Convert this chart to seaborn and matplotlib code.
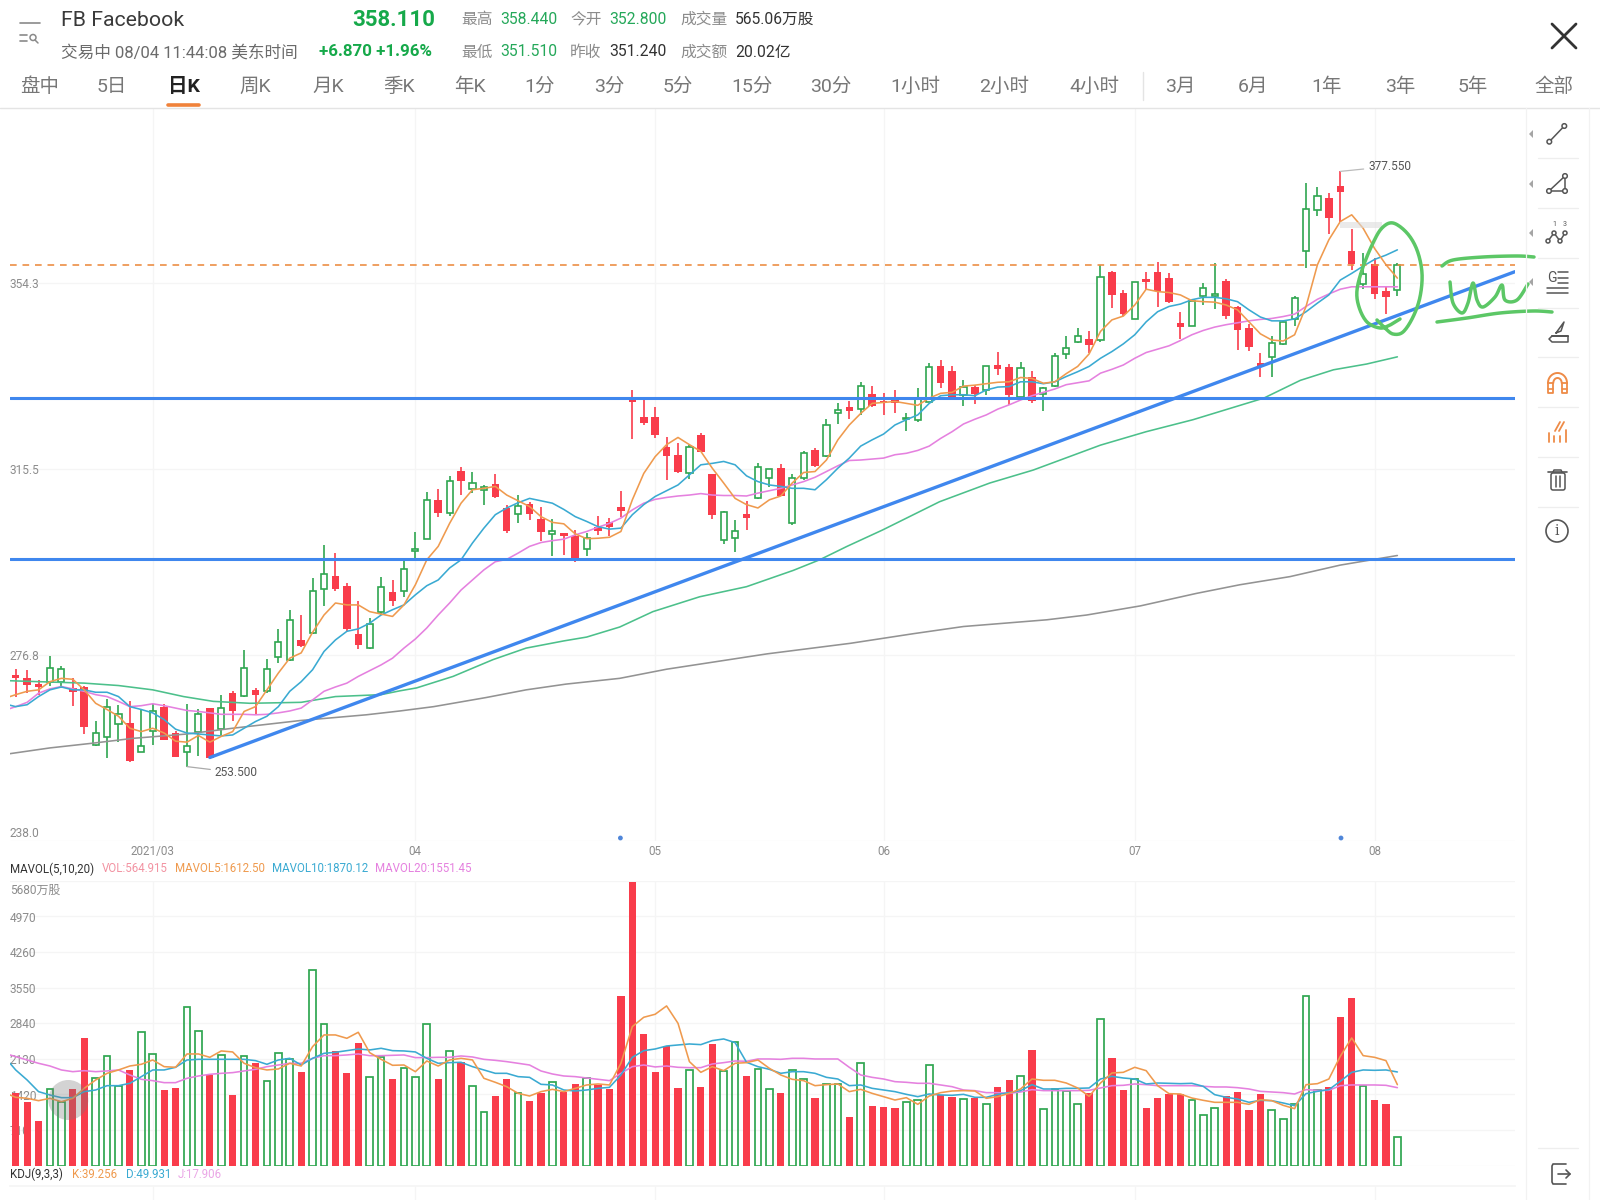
import numpy as np
import pandas as pd
import seaborn as sns
import matplotlib
matplotlib.use('Agg')
import matplotlib.pyplot as plt
from matplotlib.patches import Circle, Rectangle, Polygon, FancyBboxPatch
from matplotlib.transforms import blended_transform_factory

# candles
opens = [272.6,272.0,270.8,271.1,271.2,269.8,270.1,258.1,259.7,262.4,262.6,256.6,261.0,266.0,260.5,256.6,260.8,265.8,261.3,268.9,
         268.3,269.4,269.2,276.3,275.8,279.9,281.3,290.6,293.3,291.2,281.2,278.3,285.8,289.9,290.1,298.5,300.9,309.0,306.3,315.1,
         311.4,311.2,312.3,307.5,306.2,308.3,305.2,302.0,302.1,301.6,298.8,303.4,304.4,307.6,329.9,326.3,326.3,320.1,318.4,314.6,
         322.6,314.5,300.8,301.2,306.2,309.5,313.6,315.8,304.2,313.6,319.4,318.3,327.1,328.5,328.0,331.2,329.8,329.9,325.9,325.8,
         329.5,336.9,335.9,330.9,332.7,331.9,337.2,336.8,330.6,334.6,331.2,332.8,339.4,341.9,342.7,342.4,356.5,352.3,346.8,355.2,
         356.6,355.3,345.9,345.4,351.5,351.5,354.7,349.2,345.0,337.7,338.8,341.5,346.7,361.0,369.6,371.9,374.6,361.0,354.1,358.3,
         352.7,352.8]
highs = [273.8,273.7,271.6,276.6,274.4,271.9,270.2,263.1,267.6,266.4,267.1,265.5,266.6,266.6,261.0,266.6,265.5,265.8,268.5,269.2,
         277.9,269.9,276.0,282.2,286.2,285.1,292.8,299.7,298.0,291.7,288.1,284.4,293.1,292.4,296.6,302.4,310.7,311.3,314.1,315.9,
         314.8,312.2,314.4,308.1,310.1,308.7,307.7,305.1,302.1,302.8,302.1,305.8,305.4,311.0,331.9,329.9,328.5,322.1,321.0,320.6,
         323.0,314.5,306.7,304.9,308.9,316.7,315.6,316.5,314.5,319.2,319.8,325.9,329.2,329.8,333.7,332.9,331.3,331.9,327.3,332.4,
         337.7,338.3,336.9,334.0,333.1,337.0,340.0,337.4,337.9,336.0,332.7,339.8,343.3,344.9,344.2,358.0,356.7,352.8,354.6,356.5,
         358.7,356.3,348.3,350.5,354.2,358.4,355.1,349.5,345.8,339.8,343.3,346.4,351.5,375.2,374.4,373.1,377.55,365.5,360.6,359.4,
         353.7,358.44]
lows = [268.0,268.8,268.5,270.2,269.9,266.2,260.3,257.8,255.2,258.7,254.4,256.5,258.1,259.0,255.5,253.5,255.8,255.4,260.1,263.1,
        268.1,264.3,268.8,275.1,275.6,278.5,281.2,286.9,290.0,281.7,278.0,278.0,285.1,286.9,288.8,296.9,300.9,305.5,305.8,310.1,
        310.6,308.1,309.4,302.1,304.2,304.8,300.6,297.4,297.5,296.2,297.3,301.7,301.5,305.6,321.7,324.7,321.9,313.3,314.6,313.4,
        319.0,305.1,299.9,298.3,302.8,309.2,311.7,309.8,303.9,313.3,315.9,318.0,324.9,325.9,326.8,328.5,326.8,327.1,323.5,325.4,
        329.4,332.4,330.6,328.7,329.1,331.0,335.1,328.8,330.5,329.2,327.7,332.7,338.4,341.7,339.6,341.9,349.0,347.4,346.7,352.8,
        349.2,350.1,342.6,345.3,349.7,348.8,346.7,340.3,340.2,334.6,334.6,341.4,345.3,357.4,368.3,364.6,367.1,356.9,353.0,350.9,
        347.8,351.51]
closes = [271.9,270.6,270.1,274.1,273.8,269.1,261.7,260.5,266.0,264.4,254.7,257.8,265.0,259.1,255.5,257.9,264.4,255.4,265.8,265.0,
          274.0,268.5,273.9,279.4,284.1,278.7,290.2,293.6,290.6,282.2,278.8,283.2,290.9,288.1,294.6,298.8,309.0,306.3,313.1,313.1,
          312.6,311.7,309.7,302.7,307.9,306.2,302.3,302.7,301.5,296.7,301.2,302.7,303.5,306.7,329.5,325.1,322.6,318.3,315.0,320.1,
          319.1,305.9,306.6,302.6,305.3,316.0,315.6,310.0,313.7,318.8,316.2,324.7,327.8,327.7,332.8,328.7,329.2,329.2,326.1,330.3,
          336.7,333.5,330.6,332.6,331.2,336.9,336.3,331.0,336.5,329.7,332.4,339.1,340.7,343.3,341.3,355.6,351.8,347.8,354.4,354.4,
          352.7,350.3,345.1,350.5,353.2,352.1,347.4,344.5,340.9,337.0,341.7,346.2,351.2,369.8,372.4,367.8,373.3,358.3,356.2,351.9,
          351.3,358.11]

# price averages, first value is at the left edge of the chart
ma5 = [268.1,268.5,269.2,269.5,271.2,271.9,271.7,269.5,266.7,265.4,264.0,261.5,260.8,261.5,260.5,258.8,258.6,260.0,258.6,259.8,260.8,
       265.0,266.0,269.5,273.0,276.1,277.2,281.5,285.1,287.6,287.2,287.2,285.8,285.3,284.8,287.2,291.4,296.6,299.4,304.2,308.4,
       311.2,311.5,311.9,310.1,308.9,307.7,305.6,304.4,304.1,302.0,301.0,301.1,301.3,302.5,309.1,314.6,318.1,320.6,322.1,320.6,
       319.2,315.7,312.6,309.4,308.1,307.4,309.1,309.9,312.6,314.8,315.0,317.4,321.6,324.7,327.1,329.2,329.4,329.6,329.2,328.8,
       330.3,331.3,331.5,332.8,333.0,333.3,333.6,333.7,334.6,334.4,333.4,333.7,335.4,336.9,339.5,344.2,346.6,347.4,349.7,353.0,
       352.5,352.3,351.8,350.6,350.4,350.3,349.7,348.7,346.2,343.7,342.4,342.2,343.5,349.4,358.1,363.3,367.1,368.5,365.7,361.5,
       358.1,355.3]
ma10 = [266.3,266.0,266.4,268.1,269.5,270.1,269.5,269.5,269.0,269.0,268.1,266.0,265.4,264.7,263.3,261.3,260.5,260.3,260.1,259.9,260.1,
        261.5,262.9,264.0,266.0,269.2,271.2,273.7,277.5,279.9,281.7,282.2,283.4,285.1,286.2,287.2,289.3,291.2,292.4,294.9,296.6,
        300.1,303.2,306.0,307.4,308.5,309.4,308.9,308.4,307.1,305.6,304.6,303.5,303.0,303.2,306.0,308.1,309.8,311.0,312.2,314.3,
        316.4,316.7,317.1,316.4,314.1,312.9,312.2,311.9,311.5,311.5,311.2,313.3,315.7,317.8,320.3,321.6,322.8,324.7,325.8,326.8,
        329.2,330.8,331.0,331.0,330.8,332.0,332.6,332.7,333.7,333.7,333.3,333.7,334.8,335.8,336.9,338.6,340.0,341.6,343.5,346.2,
        348.3,349.4,349.9,350.8,351.3,351.3,351.0,350.4,348.7,347.2,346.4,346.4,346.8,348.3,350.1,351.8,354.9,356.3,357.8,359.2,
        360.1,361.2]
ma20 = [265.6,266.0,266.9,268.8,269.7,270.2,269.7,269.2,268.5,268.1,267.1,266.0,266.2,266.6,266.2,265.7,265.2,265.0,264.7,264.4,264.4,
        264.4,264.3,264.4,264.7,265.1,265.7,267.4,269.2,270.1,270.9,272.3,273.5,274.7,276.1,278.2,280.1,282.4,285.1,287.6,290.3,
        292.4,294.5,296.2,296.7,298.0,299.4,300.2,300.6,300.9,301.8,302.5,303.4,304.2,305.3,307.0,308.4,309.2,309.6,309.9,310.1,
        310.4,310.1,310.0,310.0,309.9,310.5,311.0,311.5,312.2,312.9,313.8,315.0,316.2,317.3,317.4,317.6,317.8,318.5,318.8,319.4,
        320.3,321.9,323.3,324.9,325.9,326.8,328.0,328.9,329.9,330.8,331.5,332.2,333.1,333.5,333.9,335.5,336.3,337.2,338.6,339.8,
        340.5,341.2,342.3,343.5,344.4,345.1,345.6,346.0,346.4,346.7,346.9,347.3,347.8,349.4,350.9,352.0,353.0,353.5,353.5,353.5,
        353.5,353.5]
ma60_x = [-0.5,6,9,12,14.7,17.3,20.5,25,28,32,33.65,35.1,38.3,41.8,44.7,48,50,52.9,55.8,59.9,64,68.1,70.4,72.8,75.9,80.9,85.3,89.1,95,99,103.1,109.3,112.5,115.4,118.3,121]
ma60 = [271.4,270.9,270.4,269.5,268.1,267.1,266.7,266.9,268.1,268.5,269.3,269.9,272.3,275.8,278.2,279.7,280.5,282.6,285.8,288.9,291.0,294.4,296.6,299.4,302.8,308.7,312.6,315.3,320.5,323.3,325.8,330.3,334.0,336.2,337.4,338.9]
ma200_x = [-0.5,3,6.8,10.3,15,19,24.9,30.7,33.65,36.6,41.2,44.7,48.2,52.9,57,65.8,73.1,78.6,83,90.3,93.8,98.5,103.4,107.2,111.6,116,121]
ma200 = [256.2,257.4,258.4,259.4,260.3,261.5,263.1,264.3,265.1,266.0,267.9,269.5,270.7,271.9,273.8,277.0,279.2,281.2,282.7,284.1,285.1,287.0,289.6,291.4,293.1,295.5,297.5]

# volume in units of 10k shares
volume = [1456,1276,897,1535,1276,1522,2552,1742,2194,1589,1901,2659,2220,1509,1542,3164,2685,1815,2207,1409,
          2180,2054,1682,2240,2134,1868,3895,2832,2287,1855,2439,1761,2174,1735,1948,1761,2818,1722,2287,2067,
          1595,1077,1389,1728,1456,1296,1442,1675,1476,1629,1748,1609,1522,3383,5650,2626,1861,2386,1542,1901,
          1575,2420,1888,2459,1795,1921,1535,1442,1908,1728,1349,1635,1635,964,2047,1190,1163,1150,1263,1316,
          2007,1409,1363,1323,1343,1223,1569,1708,1781,2300,1137,1529,1482,1236,1449,2925,2140,1516,1728,1150,
          1349,1429,1436,1316,1004,1150,1383,1476,1103,1436,1103,937,1236,3377,1502,1569,2965,3343,1595,1316,
          1236,565]
vol_ma5 = [1409,1363,1343,1296,1343,1276,1343,1542,1708,1841,1908,1987,2021,2107,1974,1961,2227,2227,2160,2287,2267,
           2041,1954,1908,1928,2041,1987,2373,2606,2606,2539,2659,2253,2120,2001,2007,1874,2087,1987,2107,2140,
           2107,1742,1662,1575,1442,1389,1476,1522,1476,1542,1609,1629,1609,2041,2772,2958,3018,3184,2838,2074,
           1861,1974,1894,2041,2054,2107,1941,1808,1722,1695,1595,1615,1629,1476,1522,1442,1376,1309,1356,1223,
           1389,1456,1489,1496,1489,1343,1376,1442,1529,1728,1702,1702,1648,1549,1383,1648,1848,1861,1961,1894,
           1595,1436,1429,1349,1303,1263,1263,1263,1223,1316,1296,1203,1137,1615,1635,1728,2180,2546,2194,2160,
           2094,1615]
vol_ma10 = [2041,1908,1708,1476,1409,1356,1356,1476,1509,1595,1595,1642,1775,1908,1908,1961,2107,2120,2120,2120,2120,
            2120,2094,2021,2107,2140,2007,2140,2240,2260,2293,2326,2307,2340,2293,2287,2267,2140,2041,2054,2061,
            1974,1908,1841,1841,1775,1761,1622,1609,1509,1489,1509,1542,1562,1808,2160,2293,2326,2386,2406,2426,
            2413,2493,2526,2453,2061,1974,1921,1841,1874,1874,1841,1761,1728,1595,1609,1542,1509,1476,1422,1376,
            1429,1409,1403,1422,1363,1363,1422,1456,1496,1615,1529,1529,1542,1542,1549,1728,1781,1748,1728,1629,
            1648,1642,1635,1642,1582,1416,1363,1329,1263,1303,1296,1250,1196,1436,1482,1516,1682,1861,1908,1901,
            1908,1868]
vol_ma20 = [2207,2174,2107,2041,1987,1908,1874,1894,1874,1888,1908,1808,1722,1695,1655,1655,1742,1788,1821,1841,1855,
            1888,1921,1974,2007,2041,2041,2140,2193,2193,2207,2227,2193,2193,2200,2207,2154,2154,2160,2160,2187,
            2167,2120,2100,2074,2041,2007,1888,1828,1788,1775,1748,1722,1695,1841,1974,2007,1968,1987,1961,1954,
            1954,2027,2054,2087,2081,2127,2127,2120,2140,2140,2127,2127,2127,1961,1808,1761,1728,1675,1662,1642,
            1642,1609,1575,1509,1496,1456,1456,1442,1469,1516,1496,1496,1496,1496,1502,1549,1595,1602,1629,1615,
            1595,1595,1595,1595,1582,1569,1569,1555,1529,1482,1469,1456,1429,1516,1502,1502,1595,1609,1609,1609,
            1602,1555]

price_ticks = [354.3, 315.5, 276.8, 238]
price_labels = ['354.3', '315.5', '276.8', '238.0']
vol_ticks = [5680, 4970, 4260, 3550, 2840, 2130, 1420, 710, 0]
vol_labels = ['5680万股', '4970', '4260', '3550', '2840', '2130', '1420', '710']
month_pos = [12, 35, 56, 76, 98, 119]
month_labels = ['2021/03', '04', '05', '06', '07', '08']
support_levels = [330.3, 296.8]
last_price = 358.11
trend_x = [17, 131.3]
trend_y = [255.4, 356.65]

RED = '#f93c4b'
GREEN = '#2fa650'
BLUE = '#3f87ee'
ORANGE = '#ef9a4e'
CYAN = '#3aaad2'
PINK = '#e581df'
MINT = '#4cc08b'
GRAY = '#939393'
GRID = '#f5f5f5'
LABEL = '#8c8c8c'
DARK = '#333333'

sns.set_theme(style='white')
plt.rcParams['font.family'] = ['Roboto', 'Noto Sans CJK SC', 'DejaVu Sans']

W, H = 1600, 1200
fig = plt.figure(figsize=(16, 12), dpi=100, facecolor='white')


def px_axes(left, top, right, bottom):
    return fig.add_axes([left / W, 1 - bottom / H, (right - left) / W, (bottom - top) / H])


ax = px_axes(10, 108, 1515, 841)
ax_vol = px_axes(10, 880.7, 1515, 1165.7)
ax_kdj = px_axes(10, 1186, 1515, 1200)
ov = fig.add_axes([0, 0, 1, 1], zorder=10)
ov.set_xlim(0, W)
ov.set_ylim(H, 0)
ov.axis('off')
ov.patch.set_alpha(0)

df = pd.DataFrame({'i': np.arange(122), 'o': opens, 'h': highs, 'l': lows, 'c': closes, 'vol': volume})
df['up'] = df['c'] >= df['o']
xs = np.r_[-0.5, df['i'].values]


def draw_line(a, x, y, color, lw=1.15):
    sns.lineplot(x=x, y=y, ax=a, color=color, linewidth=lw, estimator=None, sort=False, zorder=4)


def smooth(points, n=10):
    # catmull-rom through hand stroke points
    p = np.array(points, dtype=float)
    p = np.vstack([p[0], p, p[-1]])
    out = []
    for k in range(1, len(p) - 2):
        for t in np.linspace(0, 1, n, endpoint=False):
            out.append(0.5 * (2 * p[k] + (p[k + 1] - p[k - 1]) * t
                              + (2 * p[k - 1] - 5 * p[k] + 4 * p[k + 1] - p[k + 2]) * t ** 2
                              + (3 * p[k] - p[k - 1] - 3 * p[k + 1] + p[k + 2]) * t ** 3))
    out.append(p[-2])
    return np.array(out)


# candles
for up, part in df.groupby('up'):
    col = GREEN if up else RED
    ax.vlines(part['i'], part['l'], part['h'], color=col, lw=1.2, zorder=2)
    low = part[['o', 'c']].min(axis=1)
    high = part[['o', 'c']].max(axis=1)
    if up:
        ax.bar(part['i'], high - low, bottom=low, width=0.54, facecolor='white', edgecolor=col, linewidth=1.2, zorder=3)
    else:
        ax.bar(part['i'], (high - low).clip(lower=0.6), bottom=low, width=0.66, color=col, linewidth=0, zorder=3)

draw_line(ax, ma200_x, ma200, GRAY)
draw_line(ax, ma60_x, ma60, MINT)
draw_line(ax, xs, ma20, PINK)
draw_line(ax, xs, ma10, CYAN)
draw_line(ax, xs, ma5, ORANGE)

ax.axhline(last_price, color='#ec8f45', lw=1.2, ls=(0, (4, 3.5)), zorder=4)
for level in support_levels:
    ax.axhline(level, color=BLUE, lw=2.2, zorder=5)
draw_line(ax, trend_x, trend_y, BLUE, lw=2.4)

ax.annotate('377.550', xy=(116, 377.55), xytext=(28, 5), textcoords='offset pixels', fontsize=8.6, color='#555555',
            va='center', arrowprops=dict(arrowstyle='-', color='#bbbbbb', lw=0.9, shrinkA=1, shrinkB=0))
ax.annotate('253.500', xy=(15, 253.5), xytext=(28, -6), textcoords='offset pixels', fontsize=8.6, color='#555555',
            va='center', arrowprops=dict(arrowstyle='-', color='#aaaaaa', lw=0.9, shrinkA=1, shrinkB=0))

ax.set_xlim(-0.5, 131.3)
ax.set_ylim(238.05, 390.76)
ax.set_xticks(month_pos)
ax.set_xticklabels(month_labels, fontsize=8.4, color=LABEL)
ax.set_yticks(price_ticks)
ax.set_yticklabels([])
ax.tick_params(axis='x', length=0, pad=3)
ax.tick_params(axis='y', length=0)
ax.set_xlabel('')
ax.set_ylabel('')
ax.grid(True, color=GRID, lw=0.9)
ax.set_axisbelow(True)
for s in ax.spines.values():
    s.set_visible(False)
trans = blended_transform_factory(ax.transAxes, ax.transData)
for val, lab in zip(price_ticks, price_labels):
    y = 239.5 if val == 238 else val - 0.3
    ax.text(0, y, lab, transform=trans, fontsize=8.6, color=LABEL, va='center', ha='left', zorder=1)

# volume
sns.barplot(data=df[df['up']], x='i', y='vol', native_scale=True, ax=ax_vol, fill=False, color=GREEN, width=0.58,
            linewidth=1.25, saturation=1, errorbar=None, zorder=2)
sns.barplot(data=df[~df['up']], x='i', y='vol', native_scale=True, ax=ax_vol, color=RED, width=0.63,
            linewidth=0, saturation=1, errorbar=None, zorder=2)
draw_line(ax_vol, xs, vol_ma20, PINK)
draw_line(ax_vol, xs, vol_ma10, CYAN)
draw_line(ax_vol, xs, vol_ma5, ORANGE)
ax_vol.set_xlim(-0.5, 131.3)
ax_vol.set_ylim(0, 5680)
ax_vol.set_xticks(month_pos)
ax_vol.set_xticklabels([])
ax_vol.set_yticks(vol_ticks)
ax_vol.set_yticklabels([])
ax_vol.tick_params(length=0)
ax_vol.set_xlabel('')
ax_vol.set_ylabel('')
ax_vol.grid(True, color=GRID, lw=0.9)
ax_vol.set_axisbelow(True)
for s in ax_vol.spines.values():
    s.set_visible(False)
trans = blended_transform_factory(ax_vol.transAxes, ax_vol.transData)
for val, lab in zip(vol_ticks, vol_labels):
    off = -195 if val == 5680 else -35
    ax_vol.text(0, val + off, lab, transform=trans, fontsize=8.6, color=LABEL, va='center', ha='left', zorder=1)

ax_kdj.set_xlim(-0.5, 131.3)
ax_kdj.set_xticks(month_pos)
ax_kdj.set_xticklabels([])
ax_kdj.set_yticks([])
ax_kdj.tick_params(length=0)
ax_kdj.grid(True, axis='x', color=GRID, lw=0.9)
for k, s in ax_kdj.spines.items():
    s.set_visible(k == 'top')
    s.set_color(GRID)

# indicator captions
for x, txt, col in [(10, 'MAVOL(5,10,20)', DARK), (101.7, 'VOL:564.915', '#f293a2'), (175, 'MAVOL5:1612.50', ORANGE),
                    (271.7, 'MAVOL10:1870.12', CYAN), (375, 'MAVOL20:1551.45', PINK)]:
    ov.text(x, 869, txt, color=col, fontsize=8.3, va='center')
for x, txt, col in [(10, 'KDJ(9,3,3)', DARK), (72.3, 'K:39.256', ORANGE), (125.7, 'D:49.931', CYAN), (177.7, 'J:17.906', '#eaa6e6')]:
    ov.text(x, 1174.5, txt, color=col, fontsize=8.3, va='center')

# header
ov.text(61, 21, 'FB Facebook', fontsize=15.3, color='#3a3a3a', va='center')
ov.text(352, 20.5, '358.110', fontsize=16, color='#16a94a', fontweight='bold', va='center')
ov.text(61, 53, '交易中 08/04 11:44:08 美东时间', fontsize=12, color='#6b6b6b', va='center')
ov.text(319, 52, '+6.870 +1.96%', fontsize=12.2, color='#16a94a', fontweight='bold', va='center')
for x, y, txt, col in [(461, 19.5, '最高', LABEL), (500, 19.5, '358.440', '#25a85a'), (570, 19.5, '今开', LABEL), (609, 19.5, '352.800', '#25a85a'),
                       (680, 19.5, '成交量', LABEL), (735, 19.5, '565.06万股', DARK),
                       (461, 52, '最低', LABEL), (500, 52, '351.510', '#25a85a'), (570, 52, '昨收', LABEL), (609, 52, '351.240', DARK),
                       (680, 52, '成交额', LABEL), (735, 52, '20.02亿', DARK)]:
    ov.text(x, y, txt, fontsize=11.3, color=col, va='center')

tab_names = ['盘中', '5日', '日K', '周K', '月K', '季K', '年K', '1分', '3分', '5分', '15分', '30分', '1小时', '2小时', '4小时',
             '3月', '6月', '1年', '3年', '5年', '全部']
tab_centers = [40, 112, 184, 255, 328, 399, 470, 540, 609, 678, 752, 831, 915, 1004, 1094, 1180, 1253, 1327, 1400, 1473, 1554]
for x, t in zip(tab_centers, tab_names):
    active = t == '日K'
    ov.text(x, 87, t, fontsize=14, ha='center', va='center', color='#222222' if active else '#777777',
            fontweight='bold' if active else 'normal')
ov.plot([168, 199], [105, 105], color='#f0823a', lw=2.6, solid_capstyle='round')
ov.plot([0, W], [107.5, 107.5], color='#e4e4e4', lw=1)
ov.plot([1143, 1143], [72, 100], color='#e4e4e4', lw=1)

# close button and menu
ov.plot([1552, 1576], [24, 48], color='#333333', lw=2, solid_capstyle='round')
ov.plot([1552, 1576], [48, 24], color='#333333', lw=2, solid_capstyle='round')
ov.plot([20, 40], [23, 23], color='#8a8a8a', lw=1.2)
ov.plot([20, 27], [35, 35], color='#8a8a8a', lw=1.2)
ov.plot([20, 27], [41, 41], color='#8a8a8a', lw=1.2)
ov.add_patch(Circle((33, 37.5), 3, fill=False, ec='#8a8a8a', lw=1.1))
ov.plot([35, 38], [40, 43], color='#8a8a8a', lw=1.1)

# markers on the chart
ov.add_patch(Circle((68.3, 1100), 20, color='#777777', alpha=0.32, lw=0))
ov.add_patch(Rectangle((1340, 222), 42, 6, color='#dcdcdc', alpha=0.6, lw=0))
for px in [620.4, 1341]:
    ov.add_patch(Circle((px, 838), 2.4, color='#4f86d9', lw=0))

# hand drawn green strokes
loop = [(1400,319),(1390,325),(1380,328),(1367,322),(1359,307),(1357,290),(1363,267),(1373,243),(1382,228),(1393,223),(1407,233),
        (1417,250),(1422,273),(1420,297),(1413,317),(1403,332),(1393,334),(1385,328),(1377,320)]
top_stroke = [(1442,266),(1453,260),(1483,257),(1517,256),(1534,257)]
bottom_stroke = [(1437,322),(1467,318),(1500,313),(1533,311),(1552,312)]
scribble = [(1450,282),(1453,303),(1462,313),(1468,303),(1473,283),(1477,300),(1483,307),(1495,297),(1502,285),(1505,300),(1517,300),(1528,284)]
for stroke in [loop, top_stroke, bottom_stroke, scribble]:
    curve = smooth(stroke)
    ov.plot(curve[:, 0], curve[:, 1], color='#5cc766', lw=2.5, solid_capstyle='round', solid_joinstyle='round')

# tool bar
TOOL = '#555555'
TOOL2 = '#ee8b47'
ov.plot([1525.5, 1525.5], [108, 1200], color='#f2f2f2', lw=0.9)
ov.plot([1589, 1589], [108, 1200], color='#f2f2f2', lw=0.9)
for y in [158, 208, 258, 308, 357, 407, 457, 507, 1148]:
    ov.plot([1538, 1578], [y, y], color='#eeeeee', lw=0.9)
for y in [134, 184, 233, 282]:
    ov.add_patch(Polygon([(1533, y - 4), (1533, y + 4), (1529, y)], color='#a5a5a5', lw=0))


def node(x, y, r=2.3, col=TOOL):
    ov.add_patch(Circle((x, y), r, fc='white', ec=col, lw=1.1, zorder=12))


ov.plot([1549.3, 1564.3], [141.7, 126], color=TOOL, lw=1.1)
node(1549.3, 141.7)
node(1564.3, 126)
ov.plot([1549, 1565, 1565, 1549], [191, 191, 176, 191], color=TOOL, lw=1.1)
node(1549, 191)
node(1565, 191)
node(1565, 176)
ov.plot([1548, 1554, 1560, 1565], [241, 233, 241, 233], color=TOOL, lw=1.1)
for a, b in [(1548, 241), (1554, 233), (1560, 241), (1565, 233)]:
    node(a, b, 2)
ov.text(1554, 225, '1', fontsize=5, color=TOOL, ha='center', va='center')
ov.text(1565, 225, '3', fontsize=5, color=TOOL, ha='center', va='center')
ov.text(1551.5, 277.5, 'G', fontsize=10, color=TOOL, ha='center', va='center')
for y in [272, 278, 283]:
    ov.plot([1558, 1568], [y, y], color=TOOL, lw=1.1)
for y in [288, 293]:
    ov.plot([1547, 1568], [y, y], color=TOOL, lw=1.1)
ov.plot([1568, 1552, 1549, 1552, 1568, 1568, 1552], [336, 336, 339, 342, 342, 336, 336], color=TOOL, lw=1.1)
ov.plot([1556, 1564, 1561, 1556], [333, 322, 331, 333], color=TOOL, lw=1.1)
t = np.linspace(np.pi, 0, 40)
ov.plot(1557.5 + 9.5 * np.cos(t), 383 - 10 * np.sin(t), color=TOOL2, lw=1.4)
ov.plot(1557.5 + 4.2 * np.cos(t), 383 - 5 * np.sin(t), color=TOOL2, lw=1.4)
ov.plot([1548, 1548, 1553.3, 1553.3, 1548], [383, 393, 393, 383, 383], color=TOOL2, lw=1.3)
ov.plot([1567, 1567, 1561.7, 1561.7, 1567], [383, 393, 393, 383, 383], color=TOOL2, lw=1.3)
ov.plot([1548, 1553.3], [389, 389], color=TOOL2, lw=1.2)
ov.plot([1561.7, 1567], [389, 389], color=TOOL2, lw=1.2)
for x, y0 in [(1549, 433), (1554, 436), (1560, 436), (1566, 430)]:
    ov.plot([x, x], [y0, 442], color=TOOL2, lw=1.3)
ov.plot([1555, 1560], [431, 422], color=TOOL2, lw=1.3)
ov.plot([1559, 1564], [431, 422], color=TOOL2, lw=1.3)
ov.add_patch(FancyBboxPatch((1551, 473), 14, 17, boxstyle='round,pad=0,rounding_size=2', fc='none', ec=TOOL, lw=1.1))
ov.plot([1548, 1567], [472, 472], color=TOOL, lw=1.2)
ov.plot([1553, 1554, 1561, 1562], [472, 470, 470, 472], color=TOOL, lw=1.1)
for x in [1556, 1560]:
    ov.plot([x, x], [476, 487], color=TOOL, lw=1.1)
ov.add_patch(Circle((1557, 531), 11, fill=False, ec=TOOL, lw=1.2))
ov.text(1557, 531, 'i', fontsize=10, color=TOOL, family=['DejaVu Serif'], ha='center', va='center')
ov.plot([1566, 1553, 1552, 1552, 1553, 1566], [1164, 1164, 1166, 1182, 1184, 1184], color=TOOL, lw=1.2)
ov.plot([1558, 1570], [1174, 1174], color=TOOL, lw=1.2)
ov.plot([1566, 1570, 1566], [1170, 1174, 1178], color=TOOL, lw=1.2)

fig.savefig('out.png', dpi=100, facecolor='white')
